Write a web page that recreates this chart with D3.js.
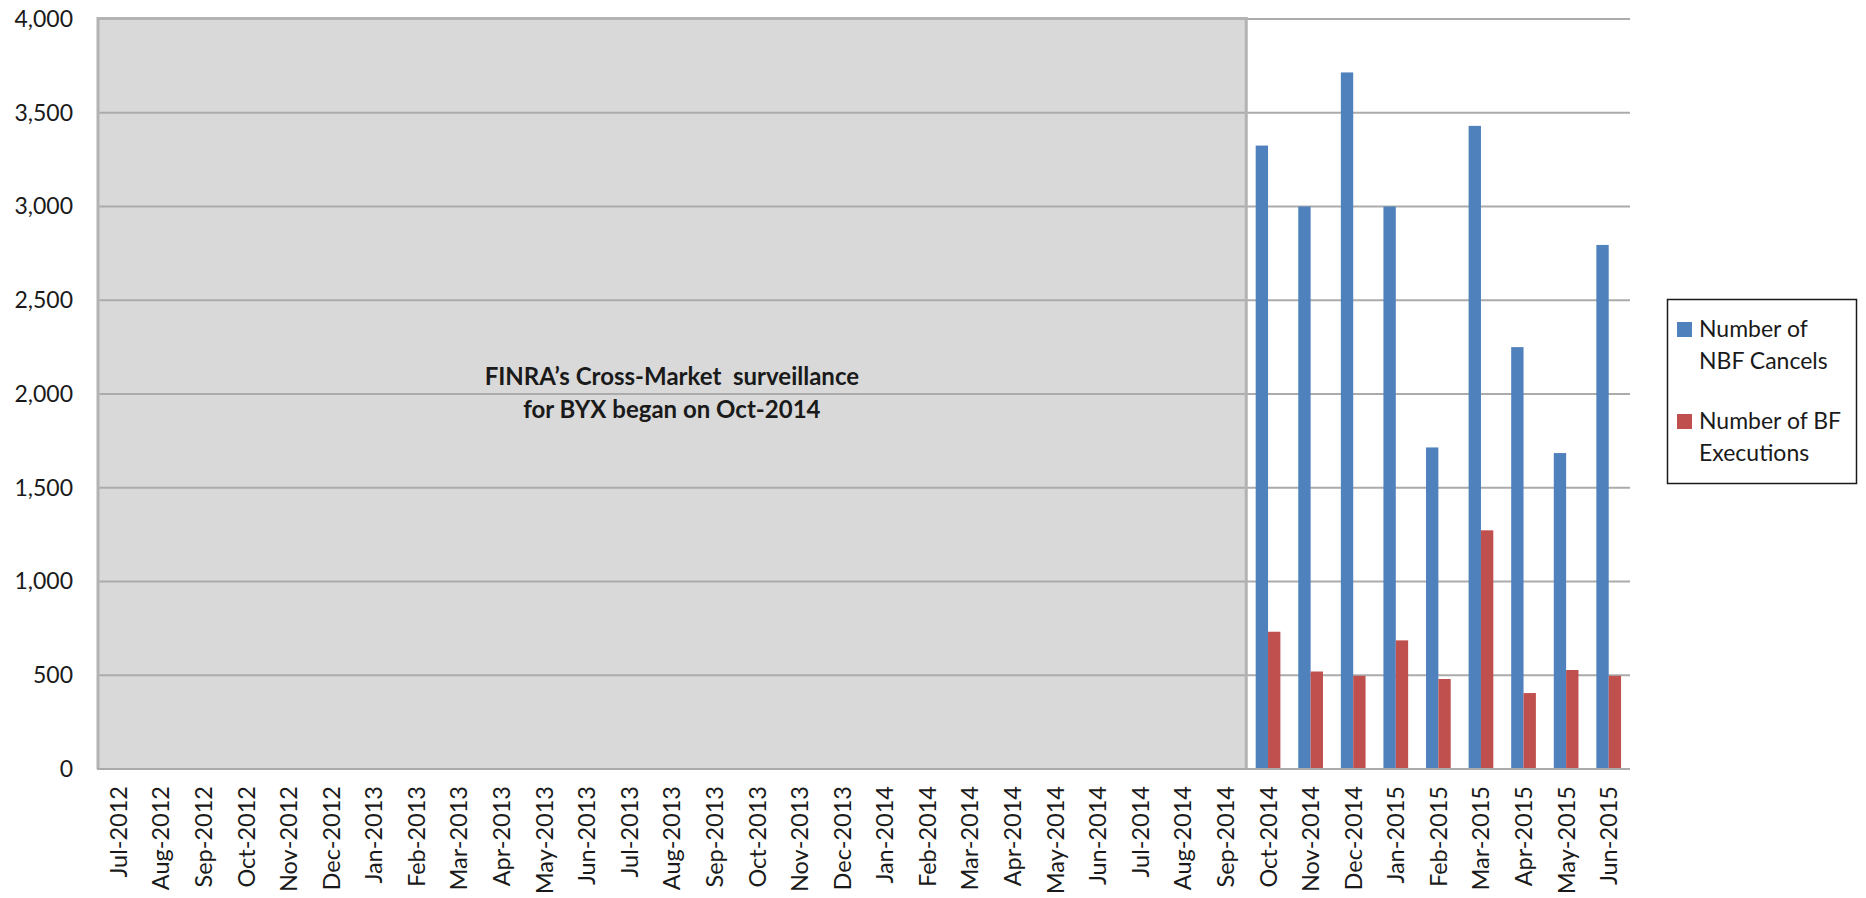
<!DOCTYPE html>
<html>
<head>
<meta charset="utf-8">
<script src="https://cdn.jsdelivr.net/npm/d3@7"></script>
<style>
  html, body { margin: 0; padding: 0; background: #fff; }
  svg text { font-family: Lato, "Open Sans", sans-serif; fill: #1a1a1a; }
</style>
</head>
<body>
<div id="chart"></div>
<script>
// months on the x axis
const months = [
  "Jul-2012", "Aug-2012", "Sep-2012", "Oct-2012", "Nov-2012", "Dec-2012",
  "Jan-2013", "Feb-2013", "Mar-2013", "Apr-2013", "May-2013", "Jun-2013",
  "Jul-2013", "Aug-2013", "Sep-2013", "Oct-2013", "Nov-2013", "Dec-2013",
  "Jan-2014", "Feb-2014", "Mar-2014", "Apr-2014", "May-2014", "Jun-2014",
  "Jul-2014", "Aug-2014", "Sep-2014", "Oct-2014", "Nov-2014", "Dec-2014",
  "Jan-2015", "Feb-2015", "Mar-2015", "Apr-2015", "May-2015", "Jun-2015"
];
// surveillance only starts in Oct-2014, so only those months have values
const barMonths = ["Oct-2014", "Nov-2014", "Dec-2014", "Jan-2015", "Feb-2015",
  "Mar-2015", "Apr-2015", "May-2015", "Jun-2015"];
const nbfCancels = [3325, 3000, 3715, 3000, 1715, 3430, 2250, 1685, 2795];
const bfExecutions = [732, 520, 497, 686, 480, 1273, 405, 528, 497];

const seriesNames = ["Number of NBF Cancels", "Number of BF Executions"];
const legendLines = [["Number of", "NBF Cancels"], ["Number of BF", "Executions"]];
const seriesColors = ["#4f81bd", "#c0504d"];

const yTicks = [0, 500, 1000, 1500, 2000, 2500, 3000, 3500, 4000];
const shadeFrom = "Jul-2012", shadeTo = "Sep-2014";
const noteLines = ["FINRA\u2019s Cross-Market  surveillance", "for BYX began on Oct-2014"];

// overall size
const svgWidth = 1866, svgHeight = 898;
const margin = { top: 19, right: 236, bottom: 129, left: 97 },
  width = svgWidth - margin.left - margin.right,
  height = svgHeight - margin.top - margin.bottom;

const svg = d3.select("#chart")
  .append("svg")
  .attr("width", svgWidth)
  .attr("height", svgHeight)
  .append("g")
  .attr("transform", "translate(" + margin.left + "," + margin.top + ")");

// x scale, one band per month
const x = d3.scaleBand().domain(months).range([0, width]).padding(0);
const pairWidth = x.bandwidth() * 0.58;
const x1 = d3.scaleBand().domain(seriesNames).range([0, pairWidth]);

// y scale
const y = d3.scaleLinear().domain([0, 4000]).range([height, 0]);

// shaded "no surveillance" block
const shadeX0 = x(shadeFrom), shadeX1 = x(shadeTo) + x.bandwidth();
svg.append("rect")
  .attr("x", shadeX0)
  .attr("y", y(4000) - 1.5)
  .attr("width", shadeX1 - shadeX0)
  .attr("height", y(0) - y(4000) + 1.5)
  .style("fill", "#d9d9d9");

// horizontal grid
svg.append("g")
  .attr("class", "y-grid")
  .selectAll("line")
  .data(yTicks.filter(d => d > 0))
  .join("line")
  .attr("x1", 0)
  .attr("x2", width)
  .attr("y1", d => y(d))
  .attr("y2", d => y(d))
  .style("stroke", "#ababab")
  .style("stroke-width", 2);

// border of the shaded block (left, top, right)
svg.append("path")
  .attr("d", `M${shadeX0 + 1},${y(0)} V${y(4000) - 0.5} H${shadeX1 - 0.5} V${y(0)}`)
  .style("fill", "none")
  .style("stroke", "#b3b3b3")
  .style("stroke-width", 3);

// note in the shaded block
svg.append("text")
  .attr("x", (shadeX0 + shadeX1) / 2)
  .attr("y", 366)
  .attr("text-anchor", "middle")
  .style("font-size", "24px")
  .style("font-weight", "bold")
  .style("white-space", "pre")
  .selectAll("tspan")
  .data(noteLines)
  .join("tspan")
  .attr("x", (shadeX0 + shadeX1) / 2)
  .attr("dy", (d, i) => i === 0 ? 0 : 33)
  .text(d => d);

// bars
const bars = svg.append("g").attr("class", "bars");
[nbfCancels, bfExecutions].forEach((values, s) => {
  bars.append("g")
    .selectAll("rect")
    .data(barMonths.map((m, i) => ({ month: m, value: values[i] })))
    .join("rect")
    .attr("x", d => x(d.month) + (x.bandwidth() - pairWidth) / 2 + x1(seriesNames[s]))
    .attr("y", d => y(d.value))
    .attr("width", x1.bandwidth())
    .attr("height", d => y(0) - y(d.value))
    .style("fill", seriesColors[s]);
});

// x axis line
svg.append("line")
  .attr("x1", 0)
  .attr("x2", width)
  .attr("y1", y(0))
  .attr("y2", y(0))
  .style("stroke", "#ababab")
  .style("stroke-width", 2);

// y axis labels
svg.append("g")
  .attr("class", "yAxis")
  .call(d3.axisLeft(y).tickValues(yTicks).tickFormat(d3.format(",")).tickSize(0).tickPadding(24))
  .call(g => g.select(".domain").remove())
  .selectAll("text")
  .style("font-size", "23px")
  .style("font-family", "Lato, sans-serif")
  .style("fill", "#1a1a1a");

// x axis labels, rotated
svg.append("g")
  .attr("class", "xAxis")
  .selectAll("text")
  .data(months)
  .join("text")
  .attr("transform", d => `translate(${x(d) + x.bandwidth() / 2 + 8.5},${y(0) + 17}) rotate(-90)`)
  .attr("text-anchor", "end")
  .style("font-size", "23.5px")
  .text(d => d);

// legend
const legend = svg.append("g")
  .attr("transform", `translate(${1667 - margin.left},${299 - margin.top})`);
legend.append("rect")
  .attr("x", 0.5)
  .attr("y", 0.5)
  .attr("width", 189)
  .attr("height", 184)
  .style("fill", "#fff")
  .style("stroke", "#1a1a1a")
  .style("stroke-width", 1.5);

const entries = legend.selectAll(".entry")
  .data(seriesNames)
  .join("g")
  .attr("class", "entry")
  .attr("transform", (d, i) => `translate(0,${i * 92})`);
entries.append("rect")
  .attr("x", 10)
  .attr("y", 23)
  .attr("width", 15)
  .attr("height", 15)
  .style("fill", (d, i) => seriesColors[i]);
entries.append("text")
  .attr("y", 38)
  .style("font-size", "23px")
  .selectAll("tspan")
  .data((d, i) => legendLines[i])
  .join("tspan")
  .attr("x", 32)
  .attr("dy", (d, i) => i === 0 ? 0 : 32)
  .text(d => d);
</script>
</body>
</html>
